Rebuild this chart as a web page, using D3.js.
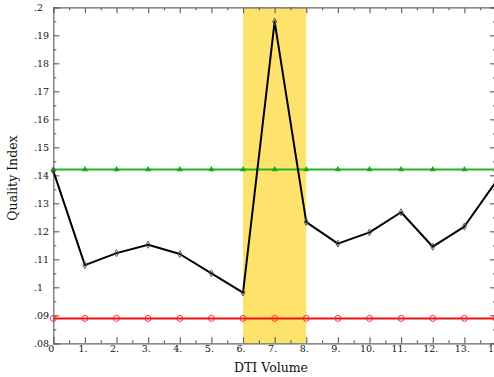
<!DOCTYPE html>
<html>
<head>
<meta charset="utf-8">
<script src="https://cdn.jsdelivr.net/npm/d3@7"></script>
<style>
	body { margin: 0; background: #fff; }
	svg { display: block; }
	text { font-family: "DejaVu Serif", serif; fill: #111; }
</style>
</head>
<body>
<div id="main"></div>
<script>
// ===========================Data=======================
var volumes = [0, 1, 2, 3, 4, 5, 6, 7, 8, 9, 10, 11, 12, 13, 14];
var qualityIndex = [0.1416, 0.1079, 0.1122, 0.1152, 0.1119, 0.1050, 0.0981,
	0.1949, 0.1233, 0.1156, 0.1196, 0.1268, 0.1145, 0.1217, 0.1377];
var upperLimit = 0.1421;
var lowerLimit = 0.0889;
var highlightRange = [6, 8];

var xTickValues = [0, 1, 2, 3, 4, 5, 6, 7, 8, 9, 10, 11, 12, 13, 14];
var xTickLabels = ['0', '1.', '2.', '3.', '4.', '5.', '6.', '7.', '8.', '9.', '10.', '11.', '12.', '13.', '14'];
var yTickValues = [0.08, 0.09, 0.10, 0.11, 0.12, 0.13, 0.14, 0.15, 0.16, 0.17, 0.18, 0.19, 0.20];
var yTickLabels = ['.08', '.09', '.1', '.11', '.12', '.13', '.14', '.15', '.16', '.17', '.18', '.19', '.2'];

// ===========================Layout=======================
const svgResolution = {
	"width": 494,
	"height": 377,
};
const plot = { left: 53.3, right: 496, top: 7.3, bottom: 343.3 };
const axisColor = '#666';

const svgContainer = d3.select('#main').append('svg')
	.attr('width', svgResolution['width'])
	.attr('height', svgResolution['height']);

var x_scale = d3.scaleLinear()
	.domain([0, 14])
	.range([plot.left, plot.right]);

var y_scale = d3.scaleLinear()
	.domain([0.08, 0.2])
	.range([plot.bottom, plot.top]);

// highlighted volumes band
svgContainer.append('rect')
	.attr('x', x_scale(highlightRange[0]))
	.attr('y', plot.top)
	.attr('width', x_scale(highlightRange[1]) - x_scale(highlightRange[0]))
	.attr('height', plot.bottom - plot.top)
	.style('fill', '#fde36b');

// ======================axes (box with inward ticks)===================
var xMinor = d3.range(0.5, 14, 1);
var yMinor = d3.range(0.085, 0.2, 0.01);

function drawAxis(axis, transform, major, minor) {
	var g = svgContainer.append('g').attr('transform', transform);
	g.call(axis.tickValues(major).tickSize(6).tickFormat(''));
	g.selectAll('path, line').style('stroke', axisColor).style('stroke-width', 1.2);
	var gm = svgContainer.append('g').attr('transform', transform);
	gm.call(axis.tickValues(minor).tickSize(3).tickFormat(''));
	gm.select('path').remove();
	gm.selectAll('line').style('stroke', axisColor).style('stroke-width', 1.2);
}

drawAxis(d3.axisTop(x_scale).tickSizeOuter(0), 'translate(0,' + plot.bottom + ')', xTickValues, xMinor);
drawAxis(d3.axisBottom(x_scale).tickSizeOuter(0), 'translate(0,' + plot.top + ')', xTickValues, xMinor);
drawAxis(d3.axisRight(y_scale).tickSizeOuter(0), 'translate(' + plot.left + ',0)', yTickValues, yMinor);
drawAxis(d3.axisLeft(y_scale).tickSizeOuter(0), 'translate(' + plot.right + ',0)', yTickValues, yMinor);

// tick labels
svgContainer.append('g').selectAll('text')
	.data(xTickValues)
	.enter()
	.append('text')
	.attr('x', d => x_scale(d) - 2)
	.attr('y', 352)
	.attr('text-anchor', 'middle')
	.style('font-size', '9.5px')
	.text((d, i) => xTickLabels[i]);

svgContainer.append('g').selectAll('text')
	.data(yTickValues)
	.enter()
	.append('text')
	.attr('x', 34)
	.attr('y', d => y_scale(d) + 3.5)
	.style('font-size', '9.5px')
	.text((d, i) => yTickLabels[i]);

// axis titles
svgContainer.append('text')
	.attr('x', 271)
	.attr('y', 372)
	.attr('text-anchor', 'middle')
	.style('font-size', '12.5px')
	.text('DTI Volume');

svgContainer.append('text')
	.attr('transform', 'translate(17,178) rotate(-90)')
	.attr('text-anchor', 'middle')
	.style('font-size', '12.5px')
	.text('Quality Index');

// ======================series===================
var line = d3.line()
	.x(d => x_scale(d[0]))
	.y(d => y_scale(d[1]));

function limitSeries(value) {
	return volumes.map(v => [v, value]);
}

// green upper limit with triangles
var greenData = limitSeries(upperLimit);
svgContainer.append('path')
	.attr('d', line(greenData))
	.style('fill', 'none')
	.style('stroke', '#22b422')
	.style('stroke-width', 2);
svgContainer.append('g').selectAll('path')
	.data(greenData)
	.enter()
	.append('path')
	.attr('d', d3.symbol().type(d3.symbolTriangle).size(16))
	.attr('transform', d => 'translate(' + x_scale(d[0]) + ',' + y_scale(d[1]) + ')')
	.style('fill', '#1aa81a');

// red lower limit with open circles
var redData = limitSeries(lowerLimit);
svgContainer.append('path')
	.attr('d', line(redData))
	.style('fill', 'none')
	.style('stroke', '#ee1111')
	.style('stroke-width', 2);
svgContainer.append('g').selectAll('circle')
	.data(redData)
	.enter()
	.append('circle')
	.attr('cx', d => x_scale(d[0]))
	.attr('cy', d => y_scale(d[1]))
	.attr('r', 3)
	.style('fill', 'none')
	.style('stroke', '#f03030')
	.style('stroke-width', 1);

// quality index with diamonds
var qiData = volumes.map((v, i) => [v, qualityIndex[i]]);
svgContainer.append('path')
	.attr('d', line(qiData))
	.style('fill', 'none')
	.style('stroke', '#000')
	.style('stroke-width', 2)
	.style('stroke-linejoin', 'round');
svgContainer.append('g').selectAll('path')
	.data(qiData)
	.enter()
	.append('path')
	.attr('d', d3.symbol().type(d3.symbolDiamond).size(14))
	.attr('transform', d => 'translate(' + x_scale(d[0]) + ',' + y_scale(d[1]) + ')')
	.style('fill', 'none')
	.style('stroke', '#555')
	.style('stroke-width', 1);
</script>
</body>
</html>
